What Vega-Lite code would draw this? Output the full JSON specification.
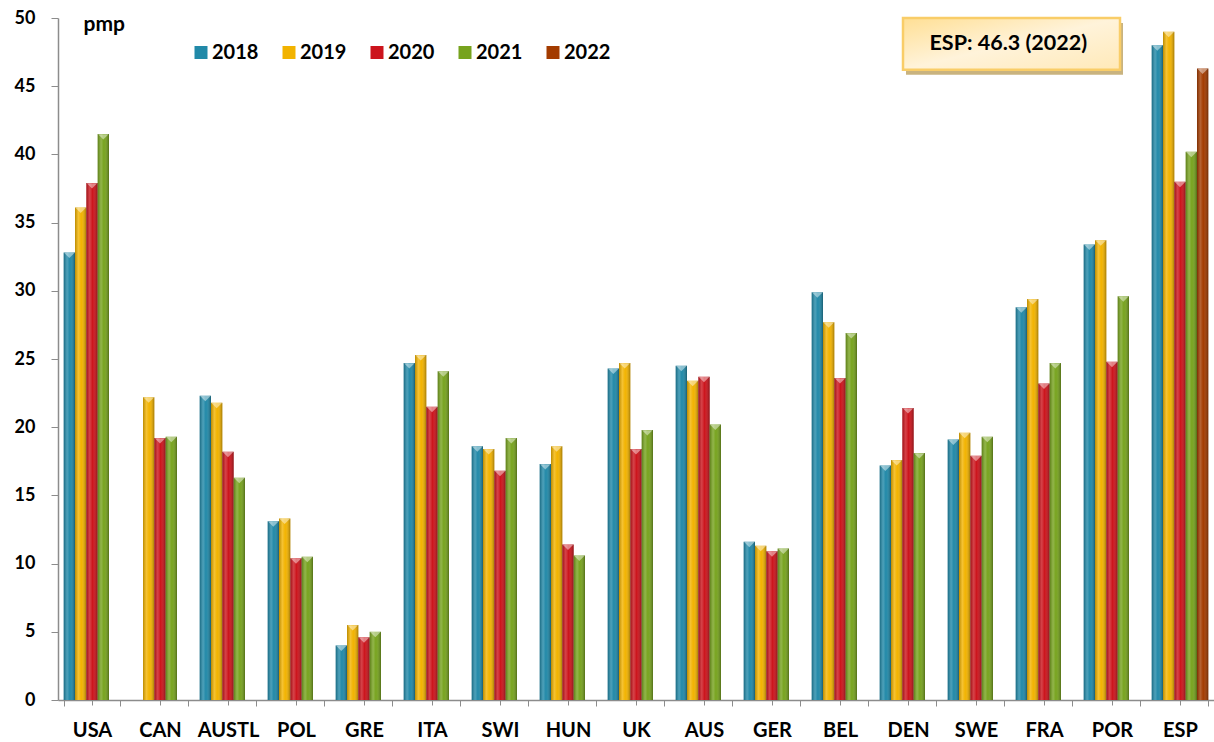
{
  "$schema": "https://vega.github.io/schema/vega-lite/v6.json",
  "width": 1156,
  "height": 682,
  "autosize": "none",
  "padding": {"left": 58, "top": 18, "right": 0, "bottom": 42},
  "background": "#ffffff",
  "config": {"view": {"stroke": null}, "font": "Lato"},
  "data": {
    "values": [
      {"country": "USA", "year": "2018", "value": 32.8},
      {"country": "USA", "year": "2019", "value": 36.1},
      {"country": "USA", "year": "2020", "value": 37.9},
      {"country": "USA", "year": "2021", "value": 41.5},
      {"country": "CAN", "year": "2019", "value": 22.2},
      {"country": "CAN", "year": "2020", "value": 19.2},
      {"country": "CAN", "year": "2021", "value": 19.3},
      {"country": "AUSTL", "year": "2018", "value": 22.3},
      {"country": "AUSTL", "year": "2019", "value": 21.8},
      {"country": "AUSTL", "year": "2020", "value": 18.2},
      {"country": "AUSTL", "year": "2021", "value": 16.3},
      {"country": "POL", "year": "2018", "value": 13.1},
      {"country": "POL", "year": "2019", "value": 13.3},
      {"country": "POL", "year": "2020", "value": 10.4},
      {"country": "POL", "year": "2021", "value": 10.5},
      {"country": "GRE", "year": "2018", "value": 4.0},
      {"country": "GRE", "year": "2019", "value": 5.5},
      {"country": "GRE", "year": "2020", "value": 4.6},
      {"country": "GRE", "year": "2021", "value": 5.0},
      {"country": "ITA", "year": "2018", "value": 24.7},
      {"country": "ITA", "year": "2019", "value": 25.3},
      {"country": "ITA", "year": "2020", "value": 21.5},
      {"country": "ITA", "year": "2021", "value": 24.1},
      {"country": "SWI", "year": "2018", "value": 18.6},
      {"country": "SWI", "year": "2019", "value": 18.4},
      {"country": "SWI", "year": "2020", "value": 16.8},
      {"country": "SWI", "year": "2021", "value": 19.2},
      {"country": "HUN", "year": "2018", "value": 17.3},
      {"country": "HUN", "year": "2019", "value": 18.6},
      {"country": "HUN", "year": "2020", "value": 11.4},
      {"country": "HUN", "year": "2021", "value": 10.6},
      {"country": "UK", "year": "2018", "value": 24.3},
      {"country": "UK", "year": "2019", "value": 24.7},
      {"country": "UK", "year": "2020", "value": 18.4},
      {"country": "UK", "year": "2021", "value": 19.8},
      {"country": "AUS", "year": "2018", "value": 24.5},
      {"country": "AUS", "year": "2019", "value": 23.4},
      {"country": "AUS", "year": "2020", "value": 23.7},
      {"country": "AUS", "year": "2021", "value": 20.2},
      {"country": "GER", "year": "2018", "value": 11.6},
      {"country": "GER", "year": "2019", "value": 11.3},
      {"country": "GER", "year": "2020", "value": 10.9},
      {"country": "GER", "year": "2021", "value": 11.1},
      {"country": "BEL", "year": "2018", "value": 29.9},
      {"country": "BEL", "year": "2019", "value": 27.7},
      {"country": "BEL", "year": "2020", "value": 23.6},
      {"country": "BEL", "year": "2021", "value": 26.9},
      {"country": "DEN", "year": "2018", "value": 17.2},
      {"country": "DEN", "year": "2019", "value": 17.6},
      {"country": "DEN", "year": "2020", "value": 21.4},
      {"country": "DEN", "year": "2021", "value": 18.1},
      {"country": "SWE", "year": "2018", "value": 19.1},
      {"country": "SWE", "year": "2019", "value": 19.6},
      {"country": "SWE", "year": "2020", "value": 17.9},
      {"country": "SWE", "year": "2021", "value": 19.3},
      {"country": "FRA", "year": "2018", "value": 28.8},
      {"country": "FRA", "year": "2019", "value": 29.4},
      {"country": "FRA", "year": "2020", "value": 23.2},
      {"country": "FRA", "year": "2021", "value": 24.7},
      {"country": "POR", "year": "2018", "value": 33.4},
      {"country": "POR", "year": "2019", "value": 33.7},
      {"country": "POR", "year": "2020", "value": 24.8},
      {"country": "POR", "year": "2021", "value": 29.6},
      {"country": "ESP", "year": "2018", "value": 48.0},
      {"country": "ESP", "year": "2019", "value": 49.0},
      {"country": "ESP", "year": "2020", "value": 38.0},
      {"country": "ESP", "year": "2021", "value": 40.2},
      {"country": "ESP", "year": "2022", "value": 46.3}
    ]
  },
  "layer": [
    {
      "mark": {"type": "bar"},
      "encoding": {
        "x": {
          "field": "country", "type": "nominal", "sort": null,
          "scale": {"domain": ["USA","CAN","AUSTL","POL","GRE","ITA","SWI","HUN","UK","AUS","GER","BEL","DEN","SWE","FRA","POR","ESP"], "paddingInner": 0.167, "paddingOuter": 0.0835},
          "axis": {
            "title": null, "labelAngle": 0, "labelFont": "Lato", "labelFontSize": 20, "labelFontWeight": "bold", "labelColor": "#000000",
            "tickBand": "extent", "tickSize": 6, "tickColor": "#8c8c8c", "domainColor": "#8c8c8c", "domainWidth": 1.5, "labelPadding": 14
          }
        },
        "xOffset": {"field": "year", "type": "nominal", "scale": {"domain": ["2018","2019","2020","2021","2022"], "paddingInner": 0, "paddingOuter": 0}},
        "y": {
          "field": "value", "type": "quantitative",
          "scale": {"domain": [0, 50], "nice": false},
          "axis": {
            "title": "pmp", "titleAngle": 0, "titleX": 25, "titleY": 6, "titleAlign": "left", "titleBaseline": "middle",
            "titleFont": "Lato", "titleFontSize": 21, "titleFontWeight": "bold", "titleColor": "#000000",
            "values": [0,5,10,15,20,25,30,35,40,45,50], "grid": false, "tickSize": 7, "labelPadding": 16,
            "labelFont": "Lato", "labelFontSize": 18, "labelFontWeight": "bold", "labelColor": "#000000",
            "tickColor": "#8c8c8c", "domainColor": "#8c8c8c", "domainWidth": 1.5
          }
        },
        "color": {
          "field": "year", "type": "nominal",
          "scale": {"domain": ["2018","2019","2020","2021","2022"], "range": ["#2189A8","#F2B300","#CC141C","#77A31E","#A33B00"]},
          "legend": {
            "orient": "none", "legendX": 133, "legendY": 24.5, "direction": "horizontal", "title": null,
            "symbolType": "square", "symbolSize": 169, "symbolStrokeWidth": 0, "symbolOpacity": 1,
            "labelFont": "Lato", "labelFontSize": 20, "labelFontWeight": "bold", "labelColor": "#000000",
            "labelOffset": 1, "columnPadding": 20, "padding": 0
          }
        }
      }
    },
    {
      "mark": {
        "type": "bar",
        "fill": {"gradient": "linear", "x1": 0, "x2": 1, "y1": 0, "y2": 0,
          "stops": [
            {"offset": 0, "color": "rgba(0,0,0,0.22)"},
            {"offset": 0.3, "color": "rgba(255,255,255,0.2)"},
            {"offset": 0.55, "color": "rgba(255,255,255,0)"},
            {"offset": 1, "color": "rgba(0,0,0,0.32)"}
          ]}
      },
      "encoding": {
        "x": {"field": "country", "type": "nominal", "sort": null, "axis": {"orient": "bottom", "labels": false, "domain": false, "tickBand": "center", "tickSize": 5, "tickColor": "#8c8c8c", "title": null}},
        "xOffset": {"field": "year", "type": "nominal"},
        "y": {"field": "value", "type": "quantitative"}
      }
    },
    {
      "mark": {"type": "point", "shape": "M-1,-1L1,-1L0,0Z", "size": 110, "filled": true, "fill": "#ffffff", "opacity": 0.45, "strokeWidth": 0, "yOffset": 5.5},
      "encoding": {
        "x": {"field": "country", "type": "nominal", "sort": null, "axis": null},
        "xOffset": {"field": "year", "type": "nominal"},
        "y": {"field": "value", "type": "quantitative"}
      }
    },
    {
      "data": {"values": [{}]},
      "mark": {"type": "rect", "fill": "#C9B37F", "xOffset": -2, "x2Offset": 11, "yOffset": 5, "y2Offset": 5},
      "encoding": {
        "x": {"datum": "DEN", "bandPosition": 0.5, "axis": null},
        "x2": {"datum": "POR", "bandPosition": 0.5},
        "y": {"datum": 50},
        "y2": {"datum": 46.2}
      }
    },
    {
      "data": {"values": [{}]},
      "mark": {
        "type": "rect", "stroke": "#F9CD68", "strokeWidth": 2.5, "xOffset": -5, "x2Offset": 8,
        "fill": {"gradient": "linear", "x1": 0, "x2": 1, "y1": 0, "y2": 1,
          "stops": [
            {"offset": 0, "color": "#FFDF94"},
            {"offset": 0.5, "color": "#FFF3DA"},
            {"offset": 1, "color": "#FFE9B8"}
          ]}
      },
      "encoding": {
        "x": {"datum": "DEN", "bandPosition": 0.5, "axis": null},
        "x2": {"datum": "POR", "bandPosition": 0.5},
        "y": {"datum": 50},
        "y2": {"datum": 46.2}
      }
    },
    {
      "data": {"values": [{}]},
      "mark": {"type": "text", "text": "ESP: 46.3 (2022)", "font": "Lato", "fontSize": 21.5, "fontWeight": "bold", "color": "#000000", "align": "center", "baseline": "middle", "dx": 4},
      "encoding": {
        "x": {"datum": "SWE", "bandPosition": 1, "axis": null},
        "y": {"datum": 48.1}
      }
    }
  ],
  "resolve": {"axis": {"x": "independent"}}
}
